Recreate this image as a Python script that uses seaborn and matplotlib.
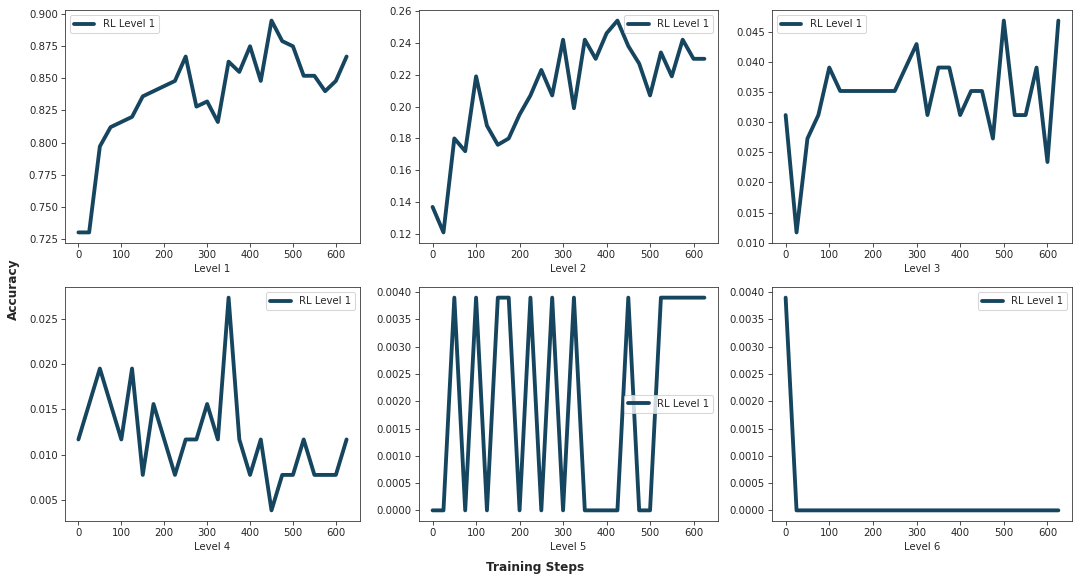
import matplotlib
matplotlib.use("Agg")
import matplotlib.pyplot as plt
import seaborn as sns
import numpy as np
import pandas as pd

steps = list(range(0, 650, 25))

level1 = [0.730, 0.730, 0.797, 0.812, 0.816, 0.820, 0.836, 0.840, 0.844, 0.848,
          0.867, 0.828, 0.832, 0.816, 0.863, 0.855, 0.875, 0.848, 0.895, 0.879,
          0.875, 0.852, 0.852, 0.840, 0.848, 0.867]
level2 = [0.137, 0.121, 0.180, 0.172, 0.219, 0.188, 0.176, 0.180, 0.195, 0.207,
          0.223, 0.207, 0.242, 0.199, 0.242, 0.230, 0.246, 0.254, 0.238, 0.227,
          0.207, 0.234, 0.219, 0.242, 0.230, 0.230]
level3 = [0.0312, 0.0117, 0.0273, 0.0312, 0.0391, 0.0352, 0.0352, 0.0352, 0.0352, 0.0352,
          0.0352, 0.0391, 0.0430, 0.0312, 0.0391, 0.0391, 0.0312, 0.0352, 0.0352, 0.0273,
          0.0469, 0.0312, 0.0312, 0.0391, 0.0234, 0.0469]
level4 = [0.0117, 0.0156, 0.0195, 0.0156, 0.0117, 0.0195, 0.0078, 0.0156, 0.0117, 0.0078,
          0.0117, 0.0117, 0.0156, 0.0117, 0.0273, 0.0117, 0.0078, 0.0117, 0.0039, 0.0078,
          0.0078, 0.0117, 0.0078, 0.0078, 0.0078, 0.0117]
level5 = [0.0, 0.0, 0.0039, 0.0, 0.0039, 0.0, 0.0039, 0.0039, 0.0, 0.0039,
          0.0, 0.0039, 0.0, 0.0039, 0.0, 0.0, 0.0, 0.0, 0.0039, 0.0,
          0.0, 0.0039, 0.0039, 0.0039, 0.0039, 0.0039]
level6 = [0.0039] + [0.0] * 25

series = [level1, level2, level3, level4, level5, level6]
panel_titles = ["Level 1", "Level 2", "Level 3", "Level 4", "Level 5", "Level 6"]
legend_label = "RL Level 1"
legend_locs = ["upper left", "upper right", "upper left", "upper right", "center right", "upper right"]

sns.set_style("ticks", rc={
    "xtick.major.size": 3.5, "ytick.major.size": 3.5,
    "xtick.major.width": 0.8, "ytick.major.width": 0.8,
    "axes.linewidth": 0.9,
    "axes.edgecolor": "#333333",
    "text.color": "#262626", "xtick.color": "#262626", "ytick.color": "#262626",
    "axes.labelcolor": "#262626",
})
plt.rcParams['font.family'] = ['DejaVu Sans']
plt.rcParams['font.size'] = 10

color = "#16465f"
W, H = 1080, 583
DPI = 73
fig = plt.figure(figsize=(W / DPI, H / DPI), dpi=DPI)

lefts = [65, 419, 772]
rights = [360, 718, 1072]
tops = [10, 287]
bottoms = [243, 521]

for i, (vals, title) in enumerate(zip(series, panel_titles)):
    r, c = divmod(i, 3)
    l, rr = lefts[c], rights[c]
    t, b = tops[r], bottoms[r]
    ax = fig.add_axes([l / W, 1 - b / H, (rr - l) / W, (b - t) / H])
    df = pd.DataFrame({"step": steps, "acc": vals})
    sns.lineplot(data=df, x="step", y="acc", ax=ax, color=color, linewidth=3.8, label=legend_label)
    ax.set_xlabel(title, fontsize=10)
    ax.set_ylabel("")
    ax.set_xticks([0, 100, 200, 300, 400, 500, 600])
    ax.tick_params(labelsize=10)
    ax.legend(loc=legend_locs[i], fontsize=10)

fig.text(535 / W, 1 - 568 / H, "Training Steps", ha="center", va="center", fontweight="bold", fontsize=12)
fig.text(13 / W, 1 - 289 / H, "Accuracy", ha="center", va="center", rotation=90, fontweight="bold", fontsize=12)

fig.savefig("out.png", dpi=DPI)
